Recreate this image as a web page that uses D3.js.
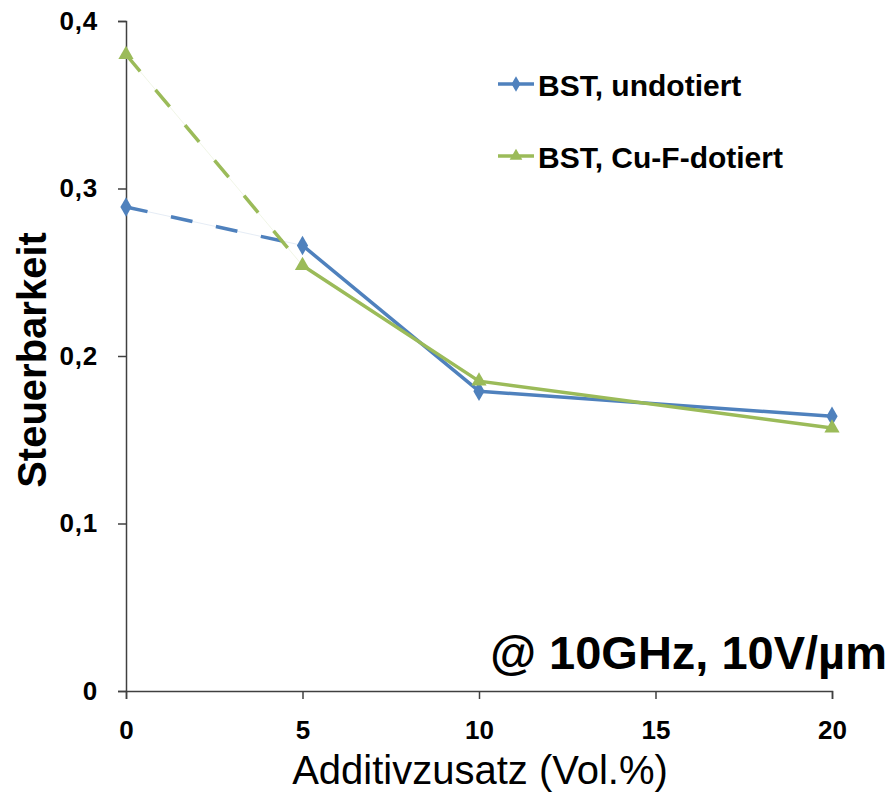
<!DOCTYPE html>
<html><head><meta charset="utf-8">
<script src="https://cdn.jsdelivr.net/npm/d3@7"></script>
<style>body{margin:0;background:#fff}svg{display:block}</style>
</head><body>
<script>
const xValues = [0, 5, 10, 20];
const undotiert = [0.289, 0.266, 0.179, 0.164];
const cuFDotiert = [0.380, 0.254, 0.185, 0.157];
const xTicks = [0, 5, 10, 15, 20];
const yTicks = [0, 0.1, 0.2, 0.3, 0.4];
const seriesNames = ["BST, undotiert", "BST, Cu-F-dotiert"];

const W = 893, H = 795;
const svg = d3.select("body").append("svg").attr("width", W).attr("height", H);
const x = d3.scaleLinear().domain([0, 20]).range([126, 832]);
const y = d3.scaleLinear().domain([0, 0.4]).range([691, 21]);
const font = "'Liberation Sans', Arial, sans-serif";

// axes
const yAx = svg.append("g").attr("transform", `translate(${x(0)},0)`)
  .call(d3.axisLeft(y).tickValues(yTicks).tickSize(8).tickPadding(20)
    .tickFormat(d => d === 0 ? "0" : d3.format(".1f")(d).replace(".", ",")));
const xAx = svg.append("g").attr("transform", `translate(0,${y(0)})`)
  .call(d3.axisBottom(x).tickValues(xTicks).tickSize(8).tickPadding(22).tickFormat(d3.format("d")));
[yAx, xAx].forEach(g => {
  g.selectAll("path,line").attr("stroke", "#404040").attr("stroke-width", 1.5);
  g.selectAll("text").attr("font-family", font).attr("font-weight", "bold")
    .attr("font-size", 26).attr("fill", "#000");
});
yAx.selectAll("text").attr("letter-spacing", 0.8);

const series = [
  {name: seriesNames[0], vals: undotiert, color: "#4F81BD", sym: d3.symbolDiamond, size: 110},
  {name: seriesNames[1], vals: cuFDotiert, color: "#9BBB59", sym: d3.symbolTriangle, size: 100}
];
const line = d3.line().x(d => x(d[0])).y(d => y(d[1]));

series.forEach(s => {
  const pts = xValues.map((v, i) => [v, s.vals[i]]);
  svg.append("path").attr("d", line(pts.slice(0, 2))).attr("fill", "none")
    .attr("stroke", s.color).attr("stroke-opacity", 0.15).attr("stroke-width", 1);
  svg.append("path").attr("d", line(pts.slice(0, 2))).attr("fill", "none")
    .attr("stroke", s.color).attr("stroke-width", 3.5).attr("stroke-dasharray", "22,24");
  svg.append("path").attr("d", line(pts.slice(1))).attr("fill", "none")
    .attr("stroke", s.color).attr("stroke-width", 3.5).attr("stroke-linejoin", "round");
  svg.selectAll(null).data(pts).enter().append("path")
    .attr("d", d3.symbol().type(s.sym).size(s.size))
    .attr("transform", d => `translate(${x(d[0])},${y(d[1])})`)
    .attr("fill", s.color);
});

// legend
series.forEach((s, i) => {
  const ly = 84 + i * 72;
  svg.append("line").attr("x1", 498).attr("x2", 534).attr("y1", ly).attr("y2", ly)
    .attr("stroke", s.color).attr("stroke-width", 3.5);
  svg.append("path").attr("d", d3.symbol().type(s.sym).size(70)())
    .attr("transform", `translate(516,${ly})`).attr("fill", s.color);
  svg.append("text").attr("x", 538).attr("y", ly + 12).text(s.name)
    .attr("font-family", font).attr("font-weight", "bold").attr("font-size", 30).attr("fill", "#000");
});

// titles
svg.append("text").attr("transform", "translate(46,360) rotate(-90)")
  .attr("text-anchor", "middle").text("Steuerbarkeit")
  .attr("font-family", font).attr("font-weight", "bold").attr("font-size", 40).attr("fill", "#000");
svg.append("text").attr("x", 480).attr("y", 784).attr("text-anchor", "middle")
  .text("Additivzusatz (Vol.%)").attr("font-family", font).attr("font-size", 40).attr("fill", "#000");
svg.append("text").attr("x", 887).attr("y", 669).attr("text-anchor", "end")
  .text("@ 10GHz, 10V/µm").attr("font-family", font).attr("font-weight", "bold")
  .attr("font-size", 47).attr("fill", "#000");
</script>
</body></html>
